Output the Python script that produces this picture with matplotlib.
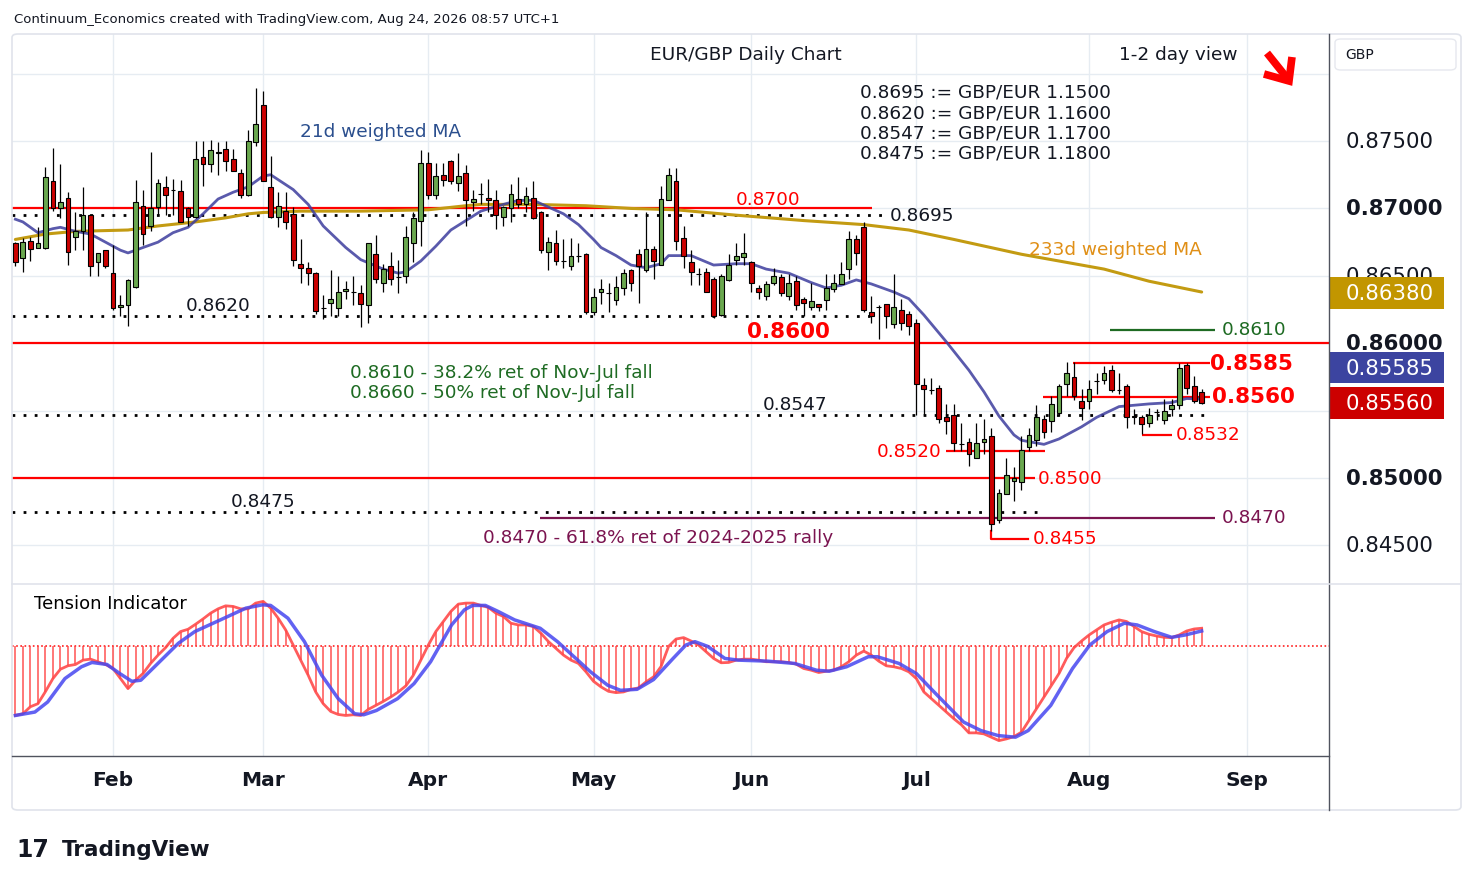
import numpy as np
import pandas as pd
import matplotlib
matplotlib.use("Agg")
import matplotlib.pyplot as plt
import matplotlib.transforms as mtransforms
from matplotlib.patches import Rectangle, FancyBboxPatch
from matplotlib.lines import Line2D

plt.rcParams['font.family'] = ['DejaVu Sans']

# ---- data (EUR/GBP daily, Jan 14 - Aug 24 2026) ----
dates = pd.bdate_range("2026-01-14", "2026-08-24")

opens = [
    0.8674, 0.8663, 0.8676, 0.8671, 0.8671, 0.8720, 0.8700, 0.8708, 0.8679, 0.8683,
    0.8695, 0.8660, 0.8669, 0.8652, 0.8627, 0.8628, 0.8642, 0.8702, 0.8687, 0.8701,
    0.8716, 0.8714, 0.8713, 0.8700, 0.8694, 0.8738, 0.8733, 0.8742, 0.8744, 0.8737,
    0.8726, 0.8710, 0.8749, 0.8777, 0.8716, 0.8694, 0.8698, 0.8696, 0.8659, 0.8656,
    0.8652, 0.8626, 0.8630, 0.8626, 0.8639, 0.8638, 0.8637, 0.8628, 0.8666, 0.8645,
    0.8657, 0.8649, 0.8650, 0.8674, 0.8691, 0.8734, 0.8710, 0.8725, 0.8735, 0.8719,
    0.8726, 0.8705, 0.8711, 0.8708, 0.8706, 0.8694, 0.8700, 0.8707, 0.8703, 0.8708,
    0.8697, 0.8668, 0.8674, 0.8661, 0.8657, 0.8665, 0.8666, 0.8623, 0.8638, 0.8637,
    0.8632, 0.8641, 0.8654, 0.8666, 0.8654, 0.8670, 0.8658, 0.8706, 0.8720, 0.8678,
    0.8660, 0.8651, 0.8653, 0.8648, 0.8621, 0.8647, 0.8662, 0.8664, 0.8660, 0.8641,
    0.8635, 0.8645, 0.8649, 0.8635, 0.8646, 0.8633, 0.8627, 0.8629, 0.8632, 0.8640,
    0.8644, 0.8655, 0.8677, 0.8686, 0.8623, 0.8627, 0.8629, 0.8614, 0.8625, 0.8622,
    0.8615, 0.8569, 0.8565, 0.8567, 0.8545, 0.8547, 0.8525, 0.8527, 0.8515, 0.8527,
    0.8531, 0.8469, 0.8488, 0.8498, 0.8497, 0.8523, 0.8528, 0.8544, 0.8542, 0.8548,
    0.8570, 0.8575, 0.8557, 0.8557, 0.8572, 0.8573, 0.8580, 0.8565, 0.8568, 0.8546,
    0.8545, 0.8541, 0.8549, 0.8543, 0.8551, 0.8554, 0.8584, 0.8568, 0.8564]
highs = [
    0.8675, 0.8678, 0.8679, 0.8686, 0.8731, 0.8745, 0.8733, 0.8712, 0.8697, 0.8716,
    0.8696, 0.8667, 0.8669, 0.8673, 0.8636, 0.8648, 0.8721, 0.8714, 0.8742, 0.8722,
    0.8724, 0.8722, 0.8721, 0.8701, 0.8750, 0.8750, 0.8751, 0.8749, 0.8750, 0.8744,
    0.8729, 0.8758, 0.8789, 0.8787, 0.8739, 0.8712, 0.8712, 0.8701, 0.8677, 0.8660,
    0.8653, 0.8636, 0.8654, 0.8650, 0.8646, 0.8650, 0.8643, 0.8674, 0.8680, 0.8659,
    0.8668, 0.8662, 0.8687, 0.8697, 0.8743, 0.8742, 0.8734, 0.8734, 0.8736, 0.8741,
    0.8732, 0.8714, 0.8719, 0.8722, 0.8714, 0.8702, 0.8718, 0.8723, 0.8716, 0.8720,
    0.8698, 0.8679, 0.8684, 0.8677, 0.8678, 0.8674, 0.8667, 0.8641, 0.8648, 0.8645,
    0.8650, 0.8655, 0.8655, 0.8670, 0.8697, 0.8672, 0.8717, 0.8730, 0.8730, 0.8687,
    0.8669, 0.8656, 0.8656, 0.8649, 0.8651, 0.8666, 0.8674, 0.8682, 0.8661, 0.8643,
    0.8646, 0.8656, 0.8651, 0.8651, 0.8650, 0.8634, 0.8645, 0.8629, 0.8651, 0.8651,
    0.8660, 0.8683, 0.8680, 0.8690, 0.8635, 0.8628, 0.8629, 0.8651, 0.8633, 0.8624,
    0.8618, 0.8574, 0.8574, 0.8569, 0.8555, 0.8555, 0.8541, 0.8530, 0.8541, 0.8544,
    0.8537, 0.8492, 0.8515, 0.8508, 0.8531, 0.8537, 0.8554, 0.8547, 0.8561, 0.8570,
    0.8586, 0.8586, 0.8566, 0.8573, 0.8578, 0.8583, 0.8584, 0.8578, 0.8570, 0.8551,
    0.8547, 0.8552, 0.8551, 0.8559, 0.8559, 0.8585, 0.8585, 0.8576, 0.8566]
lows = [
    0.8657, 0.8653, 0.8661, 0.8671, 0.8670, 0.8698, 0.8693, 0.8658, 0.8669, 0.8669,
    0.8650, 0.8650, 0.8656, 0.8625, 0.8620, 0.8613, 0.8641, 0.8673, 0.8683, 0.8695,
    0.8695, 0.8695, 0.8690, 0.8687, 0.8693, 0.8717, 0.8727, 0.8725, 0.8728, 0.8728,
    0.8708, 0.8709, 0.8746, 0.8720, 0.8693, 0.8686, 0.8685, 0.8657, 0.8645, 0.8643,
    0.8622, 0.8618, 0.8620, 0.8620, 0.8633, 0.8628, 0.8612, 0.8615, 0.8645, 0.8638,
    0.8643, 0.8637, 0.8645, 0.8660, 0.8672, 0.8707, 0.8707, 0.8717, 0.8718, 0.8713,
    0.8687, 0.8698, 0.8703, 0.8697, 0.8685, 0.8687, 0.8690, 0.8700, 0.8697, 0.8692,
    0.8667, 0.8654, 0.8658, 0.8656, 0.8654, 0.8660, 0.8622, 0.8621, 0.8629, 0.8623,
    0.8628, 0.8636, 0.8639, 0.8630, 0.8653, 0.8648, 0.8658, 0.8706, 0.8669, 0.8656,
    0.8643, 0.8643, 0.8638, 0.8619, 0.8620, 0.8646, 0.8658, 0.8658, 0.8638, 0.8633,
    0.8632, 0.8643, 0.8635, 0.8632, 0.8625, 0.8620, 0.8625, 0.8624, 0.8625, 0.8638,
    0.8644, 0.8648, 0.8658, 0.8623, 0.8615, 0.8603, 0.8611, 0.8611, 0.8610, 0.8606,
    0.8547, 0.8547, 0.8562, 0.8541, 0.8533, 0.8520, 0.8520, 0.8509, 0.8515, 0.8518,
    0.8461, 0.8467, 0.8488, 0.8483, 0.8491, 0.8520, 0.8524, 0.8530, 0.8534, 0.8546,
    0.8561, 0.8558, 0.8543, 0.8551, 0.8562, 0.8570, 0.8564, 0.8562, 0.8537, 0.8540,
    0.8533, 0.8538, 0.8543, 0.8540, 0.8546, 0.8551, 0.8562, 0.8556, 0.8555]
closes = [
    0.8660, 0.8675, 0.8670, 0.8674, 0.8723, 0.8700, 0.8705, 0.8668, 0.8683, 0.8695,
    0.8657, 0.8667, 0.8657, 0.8626, 0.8628, 0.8647, 0.8705, 0.8681, 0.8700, 0.8719,
    0.8710, 0.8714, 0.8690, 0.8694, 0.8737, 0.8733, 0.8743, 0.8741, 0.8735, 0.8728,
    0.8710, 0.8750, 0.8763, 0.8720, 0.8694, 0.8702, 0.8690, 0.8662, 0.8656, 0.8652,
    0.8624, 0.8626, 0.8633, 0.8638, 0.8640, 0.8638, 0.8629, 0.8674, 0.8648, 0.8655,
    0.8648, 0.8649, 0.8679, 0.8693, 0.8734, 0.8710, 0.8724, 0.8721, 0.8720, 0.8724,
    0.8706, 0.8707, 0.8711, 0.8706, 0.8695, 0.8701, 0.8711, 0.8703, 0.8709, 0.8693,
    0.8669, 0.8675, 0.8661, 0.8661, 0.8665, 0.8665, 0.8623, 0.8634, 0.8640, 0.8637,
    0.8642, 0.8652, 0.8645, 0.8657, 0.8670, 0.8661, 0.8707, 0.8725, 0.8676, 0.8665,
    0.8653, 0.8651, 0.8638, 0.8620, 0.8650, 0.8658, 0.8665, 0.8667, 0.8645, 0.8638,
    0.8644, 0.8650, 0.8637, 0.8645, 0.8628, 0.8630, 0.8631, 0.8627, 0.8641, 0.8645,
    0.8651, 0.8677, 0.8667, 0.8625, 0.8620, 0.8627, 0.8620, 0.8627, 0.8615, 0.8613,
    0.8570, 0.8566, 0.8565, 0.8544, 0.8542, 0.8526, 0.8525, 0.8518, 0.8526, 0.8529,
    0.8466, 0.8489, 0.8502, 0.8500, 0.8521, 0.8532, 0.8545, 0.8534, 0.8555, 0.8568,
    0.8578, 0.8561, 0.8552, 0.8566, 0.8572, 0.8578, 0.8565, 0.8565, 0.8545, 0.8545,
    0.8540, 0.8547, 0.8549, 0.8550, 0.8554, 0.8582, 0.8567, 0.8557, 0.8556]

# 21d weighted MA (day index, value)
wma21_x = [0, 1, 3, 5, 6, 8, 10, 12, 14, 15, 17, 19, 21, 23, 25, 27, 29, 31, 33, 34,
           37, 39, 41, 44, 46, 49, 51, 52, 54, 56, 58, 60, 62, 65, 67, 69, 71, 73, 75, 77,
           78, 80, 82, 84, 86, 87, 90, 93, 96, 98, 100, 103, 106, 108, 110, 112, 114, 117, 119, 121,
           124, 127, 129, 131, 133, 134, 137, 139, 140, 142, 144, 147, 149, 151, 154, 156, 158]
wma21_y = [0.8692, 0.8690, 0.8682, 0.8685, 0.8686, 0.8683, 0.8681, 0.8675, 0.8669, 0.8667,
           0.8671, 0.8675, 0.8682, 0.8686, 0.8696, 0.8707, 0.8712, 0.8716, 0.8724, 0.8725,
           0.8714, 0.8703, 0.8687, 0.8671, 0.8662, 0.8655, 0.8652, 0.8653, 0.8661, 0.8672,
           0.8684, 0.8691, 0.8698, 0.8703, 0.8706, 0.8706, 0.8701, 0.8696, 0.8688, 0.8677,
           0.8671, 0.8665, 0.8658, 0.8656, 0.8659, 0.8665, 0.8665, 0.8658, 0.8659, 0.8659,
           0.8655, 0.8652, 0.8645, 0.8641, 0.8643, 0.8647, 0.8644, 0.8638, 0.8633, 0.8621,
           0.8601, 0.8580, 0.8564, 0.8546, 0.8532, 0.8528, 0.8525, 0.8529, 0.8532, 0.8538,
           0.8545, 0.8553, 0.8554, 0.8555, 0.8556, 0.8559, 0.85585]

# 233d weighted MA (day index, value)
wma233_x = [0, 4, 8, 15, 19, 24, 28, 31, 33, 38, 46, 55, 60, 62, 69, 76, 82, 88, 96, 105,
            113, 119, 125, 134, 145, 151, 158]
wma233_y = [0.8677, 0.8681, 0.8683, 0.8684, 0.8687, 0.8690, 0.8693, 0.8696, 0.8697, 0.8698,
            0.8698, 0.8699, 0.8702, 0.8703, 0.8703, 0.8702, 0.8700, 0.8699, 0.8695, 0.8691,
            0.8688, 0.8684, 0.8677, 0.8666, 0.8655, 0.8646, 0.8638]

# Tension indicator: fast (red, one per day) and slow (blue) lines
tension_fast = [
    -0.687, -0.67, -0.60, -0.57, -0.45, -0.32, -0.227, -0.193, -0.18, -0.137,
    -0.127, -0.153, -0.18, -0.22, -0.32, -0.42, -0.337, -0.27, -0.17, -0.087,
    -0.013, 0.08, 0.147, 0.17, 0.22, 0.273, 0.33, 0.373, 0.403, 0.397,
    0.373, 0.373, 0.43, 0.447, 0.38, 0.28, 0.163, 0.013, -0.137, -0.287,
    -0.453, -0.57, -0.647, -0.677, -0.687, -0.68, -0.687, -0.627, -0.587, -0.547,
    -0.503, -0.453, -0.393, -0.287, -0.137, 0.013, 0.147, 0.247, 0.347, 0.42,
    0.43, 0.43, 0.407, 0.387, 0.33, 0.297, 0.23, 0.213, 0.213, 0.197,
    0.13, 0.047, -0.02, -0.087, -0.137, -0.17, -0.253, -0.347, -0.403, -0.447,
    -0.46, -0.453, -0.427, -0.413, -0.353, -0.303, -0.20, 0.0, 0.073, 0.087,
    0.053, 0.013, -0.053, -0.12, -0.163, -0.16, -0.137, -0.127, -0.127, -0.137,
    -0.153, -0.153, -0.153, -0.16, -0.177, -0.22, -0.237, -0.26, -0.247, -0.237,
    -0.203, -0.153, -0.087, -0.047, -0.087, -0.147, -0.193, -0.203, -0.22, -0.253,
    -0.32, -0.453, -0.52, -0.587, -0.653, -0.72, -0.78, -0.86, -0.86, -0.87,
    -0.903, -0.937, -0.92, -0.897, -0.853, -0.737, -0.62, -0.503, -0.387, -0.27,
    -0.12, -0.013, 0.053, 0.113, 0.163, 0.213, 0.24, 0.263, 0.247, 0.197,
    0.147, 0.12, 0.103, 0.09, 0.087, 0.113, 0.153, 0.173, 0.18]
tension_slow_x = [0, 2.6, 4.3, 6.6, 8.8, 10.2, 12.2, 13.9, 15.5, 16.7, 18.3, 21.7, 23.9, 27.3,
                  30.7, 32.9, 34.0, 36.3, 38.5, 40.8, 43.0, 45.2, 46.4, 48.1, 50.9, 53.1, 55.3,
                  58.1, 59.8, 60.9, 62.6, 64.3, 66.5, 69.9, 72.2, 74.4, 76.6, 78.9, 80.6, 82.8,
                  85.0, 87.6, 89.3, 90.5, 92.2, 94.5, 96.3, 100.2, 103.8, 106.7, 108.4, 110.7,
                  113.6, 114.8, 117.7, 120.0, 122.8, 126.3, 128.6, 130.9, 133.2, 134.9, 137.9,
                  140.8, 143.1, 145.4, 147.7, 149.4, 151.7, 154.0, 155.8, 158.0]
tension_slow = [-0.687, -0.653, -0.553, -0.32, -0.203, -0.16, -0.18, -0.27, -0.347, -0.337,
                -0.22, 0.03, 0.147, 0.263, 0.38, 0.413, 0.407, 0.28, 0.047, -0.287,
                -0.52, -0.67, -0.68, -0.637, -0.52, -0.37, -0.153, 0.213, 0.363, 0.407,
                0.407, 0.347, 0.263, 0.18, 0.047, -0.103, -0.253, -0.387, -0.437, -0.427,
                -0.33, -0.12, 0.013, 0.047, 0.0, -0.12, -0.137, -0.147, -0.17, -0.237,
                -0.247, -0.203, -0.103, -0.103, -0.17, -0.27, -0.487, -0.753, -0.837, -0.887,
                -0.903, -0.837, -0.587, -0.22, 0.013, 0.147, 0.23, 0.213, 0.147, 0.09,
                0.113, 0.153]

month_labels = ["Feb", "Mar", "Apr", "May", "Jun", "Jul", "Aug", "Sep"]
price_ticks = [0.845, 0.850, 0.860, 0.865, 0.870, 0.875]   # 0.855 sits under the last-price box
price_grid = [0.845, 0.850, 0.855, 0.860, 0.865, 0.870, 0.875, 0.880]
bold_ticks = [0.850, 0.860, 0.870]

ma21_last = 0.85585
ma233_last = 0.86380
last_close = 0.85560

# ---- figure ----
W, H = 1474, 887
fig = plt.figure(figsize=(W / 100, H / 100), dpi=100)
fig.patch.set_facecolor("white")


def fx(px):
    return px / W


def fy(py):
    return 1 - py / H


ax = fig.add_axes([fx(12), fy(585), fx(1329) - fx(12), fy(35) - fy(585)])
axi = fig.add_axes([fx(12), fy(757), fx(1329) - fx(12), fy(585) - fy(757)])

XMIN, XMAX = -0.45, 174.96
for a in (ax, axi):
    a.set_xlim(XMIN, XMAX)
    a.set_xticks([])
    a.set_yticks([])
    for s in a.spines.values():
        s.set_visible(False)
ax.set_ylim(0.84214, 0.88294)
axi.set_ylim(-1.09, 0.62)

GRID = "#e6ecf2"
ext = pd.bdate_range("2026-01-14", "2026-09-30")
month_starts = pd.date_range("2026-02-01", "2026-09-01", freq="MS")
month_pos = np.searchsorted(ext, month_starts)
for m in month_pos:
    ax.axvline(m, color=GRID, lw=1, zorder=0)
    axi.axvline(m, color=GRID, lw=1, zorder=0)
for p in price_grid:
    ax.axhline(p, color=GRID, lw=1, zorder=0)

# ---- level lines ----
RED = "#ff0000"
DOT = (0, (1, 3))
ax.hlines(0.8700, XMIN, 114.1, color=RED, lw=1.6, zorder=2)
ax.hlines(0.8695, XMIN, 115.8, color="black", lw=2, ls=DOT, zorder=2)
ax.hlines(0.8620, XMIN, 113.8, color="black", lw=2, ls=DOT, zorder=2)
ax.axhline(0.8600, color=RED, lw=1.6, zorder=2)
ax.hlines(0.8547, XMIN, 159.1, color="black", lw=2, ls=DOT, zorder=2)
ax.hlines(0.8475, XMIN, 137.1, color="black", lw=2, ls=DOT, zorder=2)
ax.hlines(0.8500, XMIN, 135.8, color=RED, lw=1.6, zorder=2)
ax.hlines(0.8470, 69.9, 159.8, color="#7b1450", lw=1.6, zorder=2)
ax.hlines(0.8610, 145.8, 159.8, color="#1e6b23", lw=1.6, zorder=2)
ax.hlines(0.8585, 140.9, 159.1, color=RED, lw=1.6, zorder=2)
ax.hlines(0.8560, 136.9, 159.1, color=RED, lw=1.6, zorder=2)
ax.hlines(0.8532, 150.0, 154.0, color=RED, lw=1.6, zorder=2)
ax.hlines(0.8520, 124.0, 137.1, color=RED, lw=1.6, zorder=2)
ax.plot([130, 130, 134.9], [0.8461, 0.8455, 0.8455], color=RED, lw=1.6, zorder=2)

# ---- moving averages ----
ax.plot(wma233_x, wma233_y, color="#c39b12", lw=2.2, zorder=2.5, solid_capstyle="round")
ax.plot(wma21_x, wma21_y, color="#3d3d9e", lw=2.0, alpha=0.85, zorder=2.5,
        solid_joinstyle="round")

# ---- candles ----
x = np.arange(len(dates))
o = np.array(opens)
c = np.array(closes)
hi = np.array(highs)
lo = np.array(lows)
up = c >= o
ax.vlines(x, lo, hi, color="black", lw=0.9, zorder=3)
ax.bar(x[up], (c - o)[up], bottom=o[up], width=0.64, color="#6aa84f",
       edgecolor="black", linewidth=0.8, zorder=4)
ax.bar(x[~up], (c - o)[~up], bottom=o[~up], width=0.64, color="#cc0000",
       edgecolor="black", linewidth=0.8, zorder=4)

# ---- chart texts ----
TXT = "#131722"
FS = 13.3
ax.text(97.3, 0.88145, "EUR/GBP Daily Chart", ha="center", va="center", fontsize=FS, color=TXT)
ax.text(162.8, 0.88145, "1-2 day view", ha="right", va="center", fontsize=FS, color=TXT)
for yv, s in zip([0.87864, 0.87715, 0.87567, 0.87418],
                 ["0.8695 := GBP/EUR 1.1500", "0.8620 := GBP/EUR 1.1600",
                  "0.8547 := GBP/EUR 1.1700", "0.8475 := GBP/EUR 1.1800"]):
    ax.text(112.5, yv, s, ha="left", va="center", fontsize=FS, color=TXT)
ax.text(48.6, 0.87574, "21d weighted MA", ha="center", va="center", fontsize=FS, color="#2b4f8e")
ax.text(146.5, 0.86699, "233d weighted MA", ha="center", va="center", fontsize=FS, color="#e08f16")

ax.text(100.2, 0.87070, "0.8700", ha="center", va="center", fontsize=FS, color=RED)
ax.text(116.5, 0.86951, "0.8695", ha="left", va="center", fontsize=FS, color=TXT)
ax.text(27.0, 0.86283, "0.8620", ha="center", va="center", fontsize=FS, color=TXT)
ax.text(102.9, 0.86091, "0.8600", ha="center", va="center", fontsize=15.5,
        fontweight="bold", color=RED)
ax.text(44.6, 0.85786, "0.8610 - 38.2% ret of Nov-Jul fall", ha="left", va="center",
        fontsize=FS, color="#1e6b23")
ax.text(44.6, 0.85638, "0.8660 - 50% ret of Nov-Jul fall", ha="left", va="center",
        fontsize=FS, color="#1e6b23")
ax.text(103.8, 0.85549, "0.8547", ha="center", va="center", fontsize=FS, color=TXT)
ax.text(160.7, 0.86105, "0.8610", ha="left", va="center", fontsize=FS, color="#1e6b23")
ax.text(159.1, 0.85853, "0.8585", ha="left", va="center", fontsize=15.5,
        fontweight="bold", color=RED)
ax.text(159.4, 0.85608, "0.8560", ha="left", va="center", fontsize=15.5,
        fontweight="bold", color=RED)
ax.text(154.6, 0.85326, "0.8532", ha="left", va="center", fontsize=FS, color=RED)
ax.text(119.0, 0.85200, "0.8520", ha="center", va="center", fontsize=FS, color=RED)
ax.text(136.2, 0.85000, "0.8500", ha="left", va="center", fontsize=FS, color=RED)
ax.text(33.0, 0.84829, "0.8475", ha="center", va="center", fontsize=FS, color=TXT)
ax.text(160.7, 0.84711, "0.8470", ha="left", va="center", fontsize=FS, color="#7b1450")
ax.text(85.6, 0.84562, "0.8470 - 61.8% ret of 2024-2025 rally", ha="center", va="center",
        fontsize=FS, color="#7b1450")
ax.text(135.5, 0.84555, "0.8455", ha="left", va="center", fontsize=FS, color=RED)

# ---- price axis ----
trans = mtransforms.blended_transform_factory(ax.transAxes, ax.transData)
for p in price_ticks:
    ax.text(1.0129, p, f"{p:.5f}", transform=trans, ha="left", va="center", fontsize=15.3,
            color=TXT, fontweight="bold" if p in bold_ticks else "normal", clip_on=False, zorder=5)

box_h = 0.00237
for yc, val, col in [(0.86372, ma233_last, "#c29600"),
                     (0.85820, ma21_last, "#3c44a0"),
                     (0.85556, last_close, "#cc0000")]:
    ax.add_patch(Rectangle((1.0008, yc - box_h / 2), 0.0866, box_h, transform=trans,
                           facecolor=col, edgecolor="none", clip_on=False, zorder=6))
    ax.text(1.0129, yc, f"{val:.5f}", transform=trans, ha="left", va="center", fontsize=15.3,
            color="white", clip_on=False, zorder=7)

# ---- tension indicator ----
axi.axhline(0, color="#ff2020", lw=1.2, ls=(0, (1, 1.5)), zorder=1)
axi.vlines(x, 0, tension_fast, color="#ff4040", lw=1.1, alpha=0.9, zorder=2)
axi.plot(x, tension_fast, color="#ff4a4a", lw=2, alpha=0.9, zorder=3)
axi.plot(tension_slow_x, tension_slow, color="#4747f0", lw=2.5, alpha=0.85, zorder=4,
         solid_joinstyle="round")
axi.text(0.017, 0.89, "Tension Indicator", transform=axi.transAxes, ha="left", va="center",
         fontsize=13, color="black")

# month labels under the indicator
mtrans = mtransforms.blended_transform_factory(axi.transData, axi.transAxes)
for m, lab in zip(month_pos, month_labels):
    axi.text(m, -0.1395, lab, transform=mtrans, ha="center", va="center", fontsize=14.5,
             fontweight="bold", color=TXT, clip_on=False)

# ---- frame and decorations ----
fig.add_artist(FancyBboxPatch((fx(12), fy(811)), fx(1461) - fx(12), fy(35) - fy(811),
                              boxstyle="round,pad=0,rounding_size=0.004", transform=fig.transFigure,
                              facecolor="none", edgecolor="#e0e3eb", lw=1.2))
fig.add_artist(Line2D([fx(1329), fx(1329)], [fy(35), fy(811)], color="#50535e", lw=1))
fig.add_artist(Line2D([fx(12), fx(1461)], [fy(585), fy(585)], color="#e0e3eb", lw=1.2))
fig.add_artist(Line2D([fx(12), fx(1329)], [fy(757), fy(757)], color="#50535e", lw=1))
fig.add_artist(FancyBboxPatch((fx(1335), fy(71)), fx(1456) - fx(1335), fy(40) - fy(71),
                              boxstyle="round,pad=0,rounding_size=0.004", transform=fig.transFigure,
                              facecolor="white", edgecolor="#e6e8ee", lw=1))
fig.text(fx(1345), fy(55), "GBP", ha="left", va="center", fontsize=10, color=TXT)

# red "down" arrow next to the view text: shaft plus chevron head
fig.add_artist(Line2D([fx(1267), fx(1287)], [fy(54), fy(79)], color="#ff0000", lw=5.5,
                      solid_capstyle="butt"))
fig.add_artist(Line2D([fx(1264), fx(1289), fx(1292)], [fy(75), fy(82), fy(58)], color="#ff0000",
                      lw=5.5, solid_joinstyle="miter", solid_capstyle="butt"))

fig.text(fx(14), fy(19), "Continuum_Economics created with TradingView.com, Aug 24, 2026 08:57 UTC+1",
         ha="left", va="center", fontsize=9.5, color=TXT)
fig.text(fx(16), fy(850), "17", ha="left", va="center", fontsize=17, fontweight="heavy",
         color=TXT)
fig.text(fx(62), fy(850), "TradingView", ha="left", va="center", fontsize=15.5,
         fontweight="bold", color=TXT)

fig.savefig("out.png", dpi=100, facecolor="white")
